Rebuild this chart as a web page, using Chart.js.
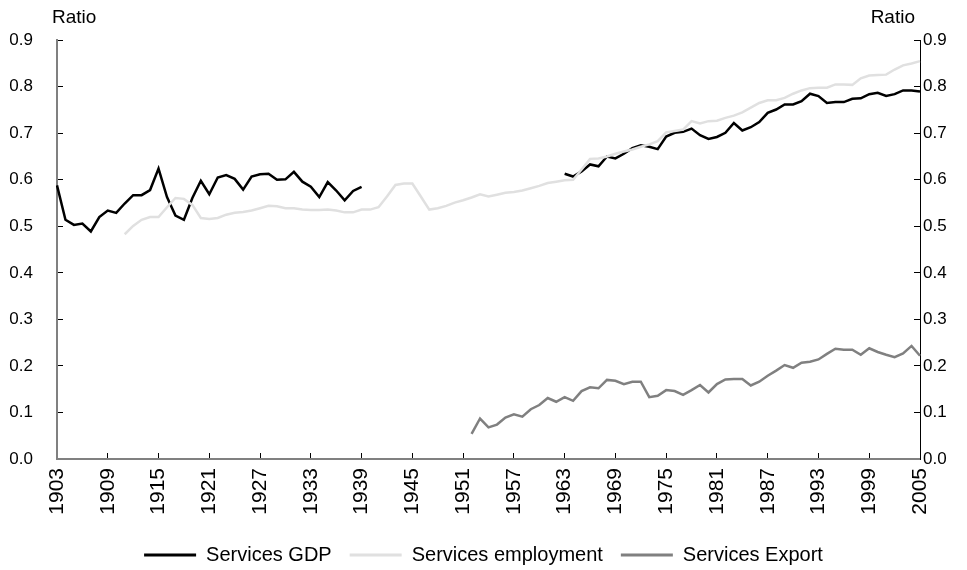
<!DOCTYPE html>
<html>
<head>
<meta charset="utf-8">
<script src="https://cdn.jsdelivr.net/npm/chart.js@4.4.1/dist/chart.umd.min.js"></script>
<style>
  html, body { margin: 0; padding: 0; background: #fff; }
  #wrap { width: 967px; height: 570px; }
</style>
</head>
<body>
<div id="wrap"><canvas id="c" width="967" height="570"></canvas></div>
<script>
// ---- Data ----
const firstYear = 1903;
const lastYear = 2005;
const years = [];
for (let y = firstYear; y <= lastYear; y++) years.push(String(y));

// Services GDP, 1903-1939
const gdpEarlyStart = 1903;
const gdpEarly = [0.588, 0.514, 0.503, 0.506, 0.489, 0.520, 0.534, 0.529, 0.549, 0.567,
                  0.567, 0.578, 0.624, 0.563, 0.523, 0.514, 0.561, 0.598, 0.569, 0.605,
                  0.610, 0.602, 0.579, 0.607, 0.612, 0.613, 0.600, 0.601, 0.617, 0.596,
                  0.585, 0.563, 0.595, 0.577, 0.556, 0.576, 0.585];
// Services GDP, 1963-2005
const gdpLateStart = 1963;
const gdpLate = [0.613, 0.607, 0.618, 0.633, 0.629, 0.650, 0.646, 0.656, 0.668, 0.674,
                 0.671, 0.666, 0.693, 0.701, 0.703, 0.710, 0.696, 0.688, 0.692, 0.701,
                 0.722, 0.706, 0.713, 0.724, 0.744, 0.751, 0.762, 0.762, 0.769, 0.785,
                 0.780, 0.765, 0.767, 0.767, 0.774, 0.775, 0.784, 0.787, 0.780, 0.784,
                 0.792, 0.792, 0.790];
// Services employment, 1911-2005
const empStart = 1911;
const employment = [0.483, 0.501, 0.514, 0.520, 0.520, 0.541, 0.561, 0.559, 0.546, 0.518,
                    0.516, 0.518, 0.525, 0.529, 0.531, 0.534, 0.539, 0.544, 0.543, 0.539,
                    0.539, 0.536, 0.535, 0.535, 0.536, 0.534, 0.530, 0.530, 0.536, 0.536,
                    0.541, 0.564, 0.589, 0.592, 0.592, 0.564, 0.536, 0.539, 0.544, 0.551,
                    0.556, 0.562, 0.569, 0.564, 0.568, 0.572, 0.574, 0.577, 0.582, 0.587,
                    0.593, 0.596, 0.599, 0.600, 0.622, 0.645, 0.646, 0.650, 0.656, 0.661,
                    0.665, 0.671, 0.676, 0.683, 0.702, 0.705, 0.708, 0.726, 0.721, 0.726,
                    0.727, 0.733, 0.738, 0.745, 0.755, 0.765, 0.771, 0.771, 0.776, 0.785,
                    0.792, 0.797, 0.798, 0.798, 0.805, 0.805, 0.804, 0.818, 0.824, 0.825,
                    0.826, 0.837, 0.846, 0.850, 0.855];
// Services Export, 1952-2005
const expStart = 1952;
const exports_ = [0.054, 0.087, 0.068, 0.074, 0.089, 0.096, 0.091, 0.107, 0.116, 0.131,
                  0.123, 0.133, 0.125, 0.146, 0.154, 0.152, 0.170, 0.168, 0.161, 0.166,
                  0.166, 0.133, 0.136, 0.148, 0.146, 0.138, 0.148, 0.159, 0.143, 0.161,
                  0.171, 0.172, 0.172, 0.158, 0.166, 0.179, 0.190, 0.202, 0.196, 0.207,
                  0.209, 0.214, 0.226, 0.237, 0.235, 0.235, 0.224, 0.238, 0.230, 0.224,
                  0.219, 0.227, 0.243, 0.222];

const yTickLabels = ['0.0','0.1','0.2','0.3','0.4','0.5','0.6','0.7','0.8','0.9'];
const seriesNames = ['Services GDP', 'Services employment', 'Services Export'];
const axisTitle = 'Ratio';

// ---- Build full-length series with gaps ----
function place(target, start, vals) {
  vals.forEach((v, i) => { target[start - firstYear + i] = v; });
}
const gdpFull = years.map(() => null);
place(gdpFull, gdpEarlyStart, gdpEarly);
place(gdpFull, gdpLateStart, gdpLate);
const empFull = years.map(() => null);
place(empFull, empStart, employment);
const expFull = years.map(() => null);
place(expFull, expStart, exports_);

const FONT = 'Liberation Sans, Arial, sans-serif';

const ratioTitles = {
  id: 'ratioTitles',
  afterDraw(chart) {
    const ctx = chart.ctx;
    const a = chart.chartArea;
    ctx.save();
    ctx.fillStyle = '#000';
    ctx.font = '19px ' + FONT;
    ctx.textBaseline = 'middle';
    ctx.textAlign = 'left';
    ctx.fillText(axisTitle, a.left - 5, 18);
    ctx.textAlign = 'right';
    ctx.fillText(axisTitle, a.right - 5, 18);
    ctx.restore();
  }
};

const yTicks = {
  min: 0, max: 0.9, stepSize: 0.1,
  color: '#000',
  font: { family: FONT, size: 17 },
  callback: (v) => yTickLabels[Math.round(v * 10)]
};

new Chart(document.getElementById('c'), {
  type: 'line',
  data: {
    labels: years,
    datasets: [
      { label: seriesNames[0], data: gdpFull, borderColor: '#000000', backgroundColor: '#000000',
        borderWidth: 2.5, pointRadius: 0, spanGaps: false, tension: 0, order: 2 },
      { label: seriesNames[1], data: empFull, borderColor: '#e0e0e0', backgroundColor: '#e0e0e0',
        borderWidth: 2.5, pointRadius: 0, spanGaps: false, tension: 0, order: 1 },
      { label: seriesNames[2], data: expFull, borderColor: '#808080', backgroundColor: '#808080',
        borderWidth: 2.5, pointRadius: 0, spanGaps: false, tension: 0, order: 0, yAxisID: 'y2' }
    ]
  },
  options: {
    responsive: false,
    animation: false,
    layout: { padding: { top: 36, left: 0, right: 0, bottom: -5 } },
    plugins: {
      tooltip: { enabled: false },
      legend: {
        position: 'bottom',
        labels: {
          color: '#000',
          font: { family: FONT, size: 20 },
          boxWidth: 52,
          boxHeight: 3,
          padding: 18,
          sort: (a, b) => a.datasetIndex - b.datasetIndex,
          generateLabels(chart) {
            const items = Chart.defaults.plugins.legend.labels.generateLabels(chart);
            items.forEach(it => { it.lineWidth = 0; it.fillStyle = it.strokeStyle; });
            return items;
          }
        }
      }
    },
    scales: {
      x: {
        type: 'category',
        offset: false,
        grid: { drawOnChartArea: false, tickLength: -6, color: '#000', lineWidth: 1 },
        border: { display: true, color: '#808080', width: 2 },
        ticks: {
          autoSkip: false, maxRotation: 90, minRotation: 90, padding: 15,
          color: '#000', font: { family: FONT, size: 21 }
        },
        afterBuildTicks(scale) {
          scale.ticks = scale.ticks.filter((t, i) => i % 6 === 0);
        },
        afterFit(scale) { scale.height = 68; }
      },
      y: {
        position: 'left',
        min: 0, max: 0.9,
        grid: { drawOnChartArea: false, tickLength: -6, color: '#000', lineWidth: 1 },
        border: { display: true, color: '#808080', width: 2 },
        ticks: Object.assign({ padding: 30 }, yTicks),
        afterFit(scale) { scale.width = 57; }
      },
      y2: {
        position: 'right',
        min: 0, max: 0.9,
        grid: { drawOnChartArea: false, tickLength: -6, color: '#000', lineWidth: 1 },
        border: { display: true, color: '#000', width: 1 },
        ticks: Object.assign({ padding: 9 }, yTicks),
        afterFit(scale) { scale.width = 47; }
      }
    }
  },
  plugins: [ratioTitles]
});
</script>
</body>
</html>
